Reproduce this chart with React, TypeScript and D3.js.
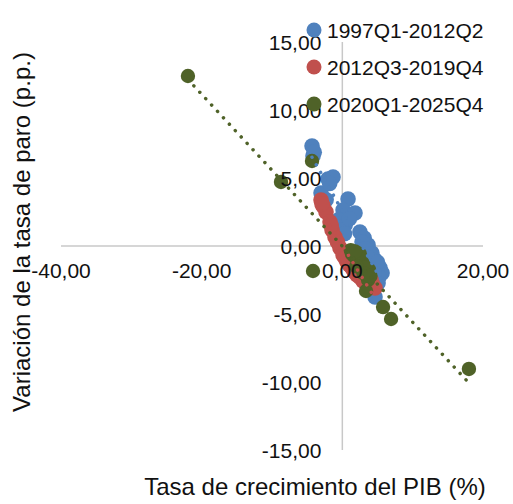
import React from "react";
import * as d3 from "d3";

const seriesNames = ["1997Q1-2012Q2", "2012Q3-2019Q4", "2020Q1-2025Q4"];
const seriesColors = ["#4F81BD", "#C0504D", "#4F6228"];

const blueX = [-4.31, -4.17, -2.03, -1.32, -3.03, -2.3, 0.81, 0.1, 1.8, -0.6, 0.4, 2.5, 3.1, 3.66, 4.2, 4.65, 5.36, 5.65, 5.08, 4.65,
  -0.3, 0.3, 1.0, 2.8, 3.3, 3.9, 4.4, 4.9, 5.2, 4.8, 4.3, 3.8, 4.1, 3.5, 5.0, 4.5, -4.0, -1.8];
const blueY = [7.35, 6.62, 4.93, 5.07, 3.9, 3.4, 3.46, 2.65, 2.43, 1.9, 1.54, 1.03, 0.59, 0.07, -0.51, -1.03, -1.62, -1.99, -2.72, -3.75,
  1.2, 0.9, 2.0, 0.3, -0.2, -0.6, -1.4, -1.8, -2.3, -2.6, -3.2, -2.1, -1.0, -0.8, -1.2, -2.0, 6.9, 4.6];

const redX = [-3.03, -2.75, -2.32, -1.75, -1.46, -1.04, -0.33, 0.1, 0.67, 1.38, 2.09, 2.94, 3.8, 4.65,
  -2.9, -1.6, -0.7, 0.4, 1.0, 1.7, 2.5, 3.3, 2.7, 3.5, 1.9, 0.9, 3.0, 2.2, 3.6, 4.2];
const redY = [3.38, 2.94, 2.5, 1.76, 1.18, 0.66, -0.15, -0.66, -1.18, -1.62, -2.13, -2.57, -2.79, -3.09,
  3.1, 1.5, 0.3, -0.9, -1.4, -1.9, -2.3, -2.7, -2.0, -2.4, -1.5, -1.0, -2.2, -1.8, -2.9, -2.6];

const greenX = [1.38, 1.95, 2.52, 3.09, 3.8, 3.66, 3.37, 5.79, 6.93, 18.0, -4.17, -8.72, -4.31, -21.95,
  1.2, 1.6, 2.2, 2.8, 3.3, 2.5, 3.0, 4.0, 2.0, 1.8];
const greenY = [-0.59, -0.88, -1.18, -1.47, -1.76, -2.5, -3.31, -4.49, -5.37, -9.04, -1.84, 4.71, 6.25, 12.5,
  -0.3, -0.7, -0.9, -1.2, -1.6, -0.6, -2.0, -2.2, -1.5, -0.4];

const xTicks = [-40, -20, 0, 20];
const yTicks = [-15, -10, -5, 0, 5, 10, 15];
const xTitle = "Tasa de crecimiento del PIB (%)";
const yTitle = "Variación de la tasa de paro (p.p.)";

const allSeries = [
  { xs: blueX, ys: blueY },
  { xs: redX, ys: redY },
  { xs: greenX, ys: greenY },
];

function regression(xs: number[], ys: number[]) {
  const mx = d3.mean(xs)!;
  const my = d3.mean(ys)!;
  let sxy = 0, sxx = 0;
  xs.forEach((x, i) => {
    sxy += (x - mx) * (ys[i] - my);
    sxx += (x - mx) * (x - mx);
  });
  const b = sxy / sxx;
  const a = my - b * mx;
  return { a, b };
}

const fmt = (v: number) => v.toFixed(2).replace(".", ",");

export default function App() {
  const W = 513, H = 504;
  const x = d3.scaleLinear().domain([-40, 20]).range([61, 483]);
  const y = d3.scaleLinear().domain([-15, 15]).range([450, 42]);
  const font = "'Liberation Sans', Arial, sans-serif";
  const r = 7.8;

  return (
    <div style={{ position: "absolute", left: 0, top: 0 }}>
      <svg width={W} height={H} style={{ display: "block", background: "#fff" }}>
        {/* axes */}
        <line x1={x(-40)} x2={x(20)} y1={y(0)} y2={y(0)} stroke="#C8C8C8" strokeWidth={1.5} />
        <line x1={x(0)} x2={x(0)} y1={y(-15)} y2={y(15)} stroke="#C8C8C8" strokeWidth={1.5} />

        {/* markers */}
        {allSeries.map((s, si) => (
          <g key={si}>
            {s.xs.map((xv, i) => (
              <circle key={i} cx={x(xv)} cy={y(s.ys[i])} r={si === 2 ? 7.2 : r} fill={seriesColors[si]} />
            ))}
          </g>
        ))}

        {/* trendlines */}
        {allSeries.map((s, si) => {
          const { a, b } = regression(s.xs, s.ys);
          const x0 = d3.min(s.xs)!, x1 = d3.max(s.xs)!;
          return (
            <line key={si} x1={x(x0)} y1={y(a + b * x0)} x2={x(x1)} y2={y(a + b * x1)}
              stroke={seriesColors[si]} strokeWidth={3.5} strokeLinecap="round" strokeDasharray="0.01 8.7" />
          );
        })}

        {/* tick labels */}
        {xTicks.map((t) => (
          <text key={t} x={x(t)} y={y(0) + 32} textAnchor="middle" fontFamily={font} fontSize={21} fill="#111">
            {fmt(t)}
          </text>
        ))}
        {yTicks.map((t) => (
          <text key={t} x={x(0) - 21} y={y(t) + 7.5} textAnchor="end" fontFamily={font} fontSize={21} fill="#111">
            {fmt(t)}
          </text>
        ))}

        {/* titles */}
        <text x={315} y={495} textAnchor="middle" fontFamily={font} fontSize={24} fill="#111">{xTitle}</text>
        <text transform="translate(30,232) rotate(-90)" textAnchor="middle" fontFamily={font} fontSize={24} fill="#111">{yTitle}</text>

        {/* legend */}
        {seriesNames.map((n, i) => (
          <g key={n}>
            <circle cx={314} cy={30 + i * 37} r={7.5} fill={seriesColors[i]} />
            <text x={327} y={30 + i * 37 + 7.5} fontFamily={font} fontSize={21} fill="#111">{n}</text>
          </g>
        ))}
      </svg>
    </div>
  );
}
